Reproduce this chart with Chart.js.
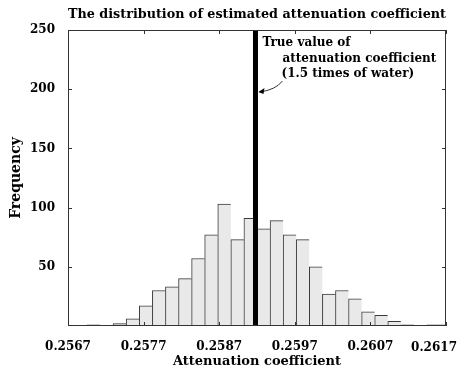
<!DOCTYPE html>
<html><head><meta charset="utf-8">
<script src="https://cdn.jsdelivr.net/npm/chart.js@4"></script>
<style>html,body{margin:0;padding:0;background:#fff}#wrap{width:466px;height:374px}</style>
</head><body><div id="wrap"><canvas id="c" width="466" height="374"></canvas></div>
<script>
// Histogram bin centres (attenuation coefficient) and counts
const binCenters = [0.2566915,0.2568645,0.2570375,0.2572105,0.2573835,0.2575565,0.2577295,0.2579025,0.2580755,0.2582485,
                    0.2584215,0.2585945,0.2587675,0.2589405,0.2591135,0.2592865,0.2594595,0.2596325,0.2598055,0.2599785,
                    0.2601515,0.2603245,0.2604975,0.2606705,0.2608435,0.2610165,0.2611895,0.2613625,0.2615355,0.2617085];
const frequencies = [0,0,1,0,2,6,17,30,33,40,
                     57,77,103,73,91,82,89,77,73,50,
                     27,30,23,12,9,4,1,0,1,1];
const xTickValues = [0.2567,0.2577,0.2587,0.2597,0.2607,0.2617];
const yTickValues = [50,100,150,200,250];
const trueValue = 0.25918;
const annotationLines = ['True value of','attenuation coefficient','(1.5 times of water)'];
const chartTitle = 'The distribution of estimated attenuation coefficient';
const xTitle = 'Attenuation coefficient';
const yTitle = 'Frequency';

const FONT = "'DejaVu Serif', serif";
const font = (s) => ({family: FONT, size: s, weight: 'bold'});
const lastX = xTickValues.length - 1;

const framePlugin = {
  id: 'frame',
  afterDatasetsDraw(chart) {
    const {ctx, chartArea: a, scales: {x, y}} = chart;
    ctx.save();
    ctx.strokeStyle = '#333';
    ctx.lineWidth = 1;
    ctx.strokeRect(Math.round(a.left) + 0.5, Math.round(a.top) + 0.5,
                   Math.round(a.right - a.left) - 1, Math.round(a.bottom - a.top) - 1);
    ctx.beginPath();
    const L = 4;
    xTickValues.forEach(v => {
      const px = Math.round(x.getPixelForValue(v)) + 0.5;
      ctx.moveTo(px, a.bottom); ctx.lineTo(px, a.bottom - L);
      ctx.moveTo(px, a.top); ctx.lineTo(px, a.top + L);
    });
    yTickValues.forEach(v => {
      const py = Math.round(y.getPixelForValue(v)) + 0.5;
      ctx.moveTo(a.left, py); ctx.lineTo(a.left + L, py);
      ctx.moveTo(a.right, py); ctx.lineTo(a.right - L, py);
    });
    ctx.stroke();
    // annotation
    const lx = x.getPixelForValue(trueValue);
    const ty = y.getPixelForValue(250);
    ctx.fillStyle = '#000';
    ctx.font = 'bold 12px ' + FONT;
    ctx.textBaseline = 'alphabetic';
    ctx.textAlign = 'left';
    ctx.fillText(annotationLines[0], lx + 7, ty + 16);
    ctx.fillText(annotationLines[1], lx + 27, ty + 32);
    ctx.fillText(annotationLines[2], lx + 26, ty + 47);
    // arrow
    ctx.beginPath();
    ctx.lineWidth = 1;
    ctx.moveTo(lx + 27, ty + 51);
    ctx.quadraticCurveTo(lx + 20, ty + 60, lx + 4, ty + 62);
    ctx.stroke();
    ctx.beginPath();
    ctx.moveTo(lx + 3, ty + 62);
    ctx.lineTo(lx + 9, ty + 58);
    ctx.lineTo(lx + 8, ty + 64);
    ctx.closePath();
    ctx.fill();
    // last x tick label, pulled inside the canvas
    ctx.textAlign = 'right';
    ctx.textBaseline = 'middle';
    ctx.fillText(xTickValues[lastX].toFixed(4), chart.width - 9, a.bottom + 21.5);
    ctx.restore();
  }
};

new Chart(document.getElementById('c'), {
  type: 'bar',
  data: {
    datasets: [
      {
        type: 'line',
        order: 0,
        data: [{x: trueValue, y: 0}, {x: trueValue, y: 250}],
        borderColor: '#000',
        borderWidth: 5,
        pointRadius: 0,
        clip: 0
      },
      {
        type: 'bar',
        order: 1,
        data: binCenters.map((c, i) => ({x: c, y: frequencies[i]})),
        backgroundColor: '#e9e9e9',
        borderColor: '#3a3a3a',
        borderWidth: {top: 1, left: 1, right: 0, bottom: 0},
        borderSkipped: false,
        barPercentage: 1,
        categoryPercentage: 1,
        clip: 0
      }
    ]
  },
  options: {
    responsive: false,
    animation: false,
    devicePixelRatio: 1,
    layout: {padding: {left: 0, right: 20, top: 0, bottom: 0}},
    plugins: {
      legend: {display: false},
      tooltip: {enabled: false},
      title: {
        display: true, text: chartTitle, color: '#000', font: font(13),
        fullSize: false, padding: {top: 6.5, bottom: 7.9}
      }
    },
    scales: {
      x: {
        type: 'linear', min: 0.2567, max: 0.2617, offset: false,
        afterBuildTicks: (s) => { s.ticks = xTickValues.map(v => ({value: v})); },
        afterFit: (s) => { s.height = 48; s.paddingLeft = 0; s.paddingRight = 0; },
        grid: {display: false, drawTicks: false},
        border: {display: false},
        ticks: {color: (c) => c.index === lastX ? 'rgba(0,0,0,0)' : '#000',
                font: font(12), padding: 14, maxRotation: 0,
                callback: (v) => v.toFixed(4)},
        title: {display: true, text: xTitle, color: '#000', font: font(13), padding: {top: 0, bottom: 4.2}}
      },
      y: {
        min: 0, max: 250,
        afterBuildTicks: (s) => { s.ticks = yTickValues.map(v => ({value: v})); },
        afterFit: (s) => { s.width = 68; },
        grid: {display: false, drawTicks: false},
        border: {display: false},
        ticks: {color: '#000', font: font(12), padding: 13},
        title: {display: true, text: yTitle, color: '#000', font: font(14), padding: {top: 7.5, bottom: 0}}
      }
    }
  },
  plugins: [framePlugin]
});
</script></body></html>
